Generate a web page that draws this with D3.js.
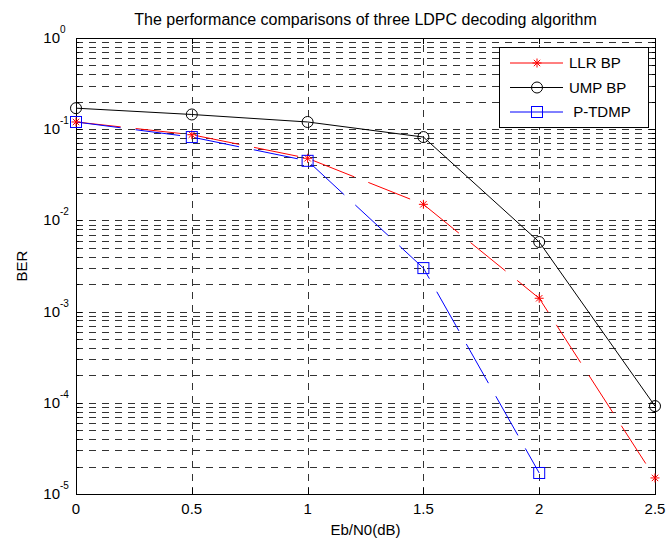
<!DOCTYPE html>
<html><head><meta charset="utf-8">
<script src="https://cdn.jsdelivr.net/npm/d3@7"></script>
<style>
html,body{margin:0;padding:0;background:#fff;}
svg text{font-family:"Liberation Sans",Arial,sans-serif;}
</style></head>
<body><svg id="c" width="667" height="542"></svg>
<script>
const xValues = [0, 0.5, 1, 1.5, 2, 2.5];
const llrBP = [0.12, 0.087, 0.048, 0.015, 1.4e-3, 1.5e-5];
const umpBP = [0.17, 0.145, 0.12, 0.082, 5.8e-3, 9.2e-5];
const pTDMP = [0.12, 0.082, 0.045, 3.0e-3, 1.7e-5];
const xTicks = [0, 0.5, 1, 1.5, 2, 2.5];
const xTickLabels = ["0", "0.5", "1", "1.5", "2", "2.5"];
const yExponents = [0, -1, -2, -3, -4, -5];
const seriesNames = ["LLR BP", "UMP BP", " P-TDMP"];
const seriesColors = ["#ff0000", "#000000", "#0000ff"];
const titleText = "The performance comparisons of three LDPC decoding algorithm";
const xLabel = "Eb/N0(dB)";
const yLabel = "BER";

const svg = d3.select("#c");
const L = 76, R = 655, T = 38, B = 494;
const x = d3.scaleLinear().domain([0, 2.5]).range([L, R]);
const y = d3.scaleLog().domain([1e-5, 1]).range([B, T]);

// grid
const g = svg.append("g");
const minor = [];
for (let e = -5; e < 0; e++) for (let m = 2; m <= 9; m++) minor.push(m * Math.pow(10, e));
const major = yExponents.map(e => Math.pow(10, e));
g.selectAll(".hg").data(minor.concat(major.slice(1, 5))).enter().append("line")
  .attr("x1", L).attr("x2", R).attr("y1", d => Math.round(y(d)) + 0.5).attr("y2", d => Math.round(y(d)) + 0.5)
  .attr("stroke", "#333").attr("stroke-width", 1).attr("stroke-dasharray", "7,6");
g.selectAll(".vg").data(xTicks.slice(1, 5)).enter().append("line")
  .attr("y1", B).attr("y2", T).attr("x1", d => Math.round(x(d)) + 0.5).attr("x2", d => Math.round(x(d)) + 0.5)
  .attr("stroke", "#333").attr("stroke-width", 1).attr("stroke-dasharray", "7,6");

// ticks (inside, all four sides)
const tk = svg.append("g").attr("stroke", "#000").attr("stroke-width", 1);
xTicks.forEach(t => {
  const xx = Math.round(x(t)) + 0.5;
  tk.append("line").attr("x1", xx).attr("x2", xx).attr("y1", B).attr("y2", B - 6);
  tk.append("line").attr("x1", xx).attr("x2", xx).attr("y1", T).attr("y2", T + 6);
});
minor.concat(major).forEach(v => {
  const yy = Math.round(y(v)) + 0.5;
  const len = major.includes(v) ? 6 : 3;
  tk.append("line").attr("x1", L).attr("x2", L + len).attr("y1", yy).attr("y2", yy);
  tk.append("line").attr("x1", R).attr("x2", R - len).attr("y1", yy).attr("y2", yy);
});
svg.append("rect").attr("x", L + 0.5).attr("y", T + 0.5).attr("width", R - L).attr("height", B - T)
  .attr("fill", "none").attr("stroke", "#000").attr("stroke-width", 1);

// tick labels
svg.selectAll(".xl").data(xTicks).enter().append("text")
  .attr("x", d => x(d)).attr("y", B + 20).attr("text-anchor", "middle")
  .attr("font-size", 15).text((d, i) => xTickLabels[i]);
yExponents.forEach(e => {
  svg.append("text").attr("x", 60).attr("y", y(Math.pow(10, e)) + 5)
    .attr("text-anchor", "end").attr("font-size", 15).text("10");
  svg.append("text").attr("x", 60).attr("y", y(Math.pow(10, e)) - 5)
    .attr("font-size", 10).text(String(e));
});

svg.append("text").attr("x", (L + R) / 2).attr("y", 25).attr("text-anchor", "middle")
  .attr("font-size", 16).text(titleText);
svg.append("text").attr("x", (L + R) / 2).attr("y", 535).attr("text-anchor", "middle")
  .attr("font-size", 15).text(xLabel);
svg.append("text").attr("transform", `translate(27,${(T + B) / 2}) rotate(-90)`)
  .attr("text-anchor", "middle").attr("font-size", 15).text(yLabel);

// series
const line = d3.line().x(d => x(d[0])).y(d => y(d[1]));
const series = [llrBP, umpBP, pTDMP];
const dashes = ["45,15", null, "45,15"];
function marker(sel, k, cx, cy) {
  const c = seriesColors[k];
  if (k === 0) {
    const s = 4.5;
    sel.append("path").attr("d", `M${cx - s},${cy}L${cx + s},${cy}M${cx},${cy - s}L${cx},${cy + s}M${cx - 3.2},${cy - 3.2}L${cx + 3.2},${cy + 3.2}M${cx - 3.2},${cy + 3.2}L${cx + 3.2},${cy - 3.2}`)
      .attr("stroke", c).attr("stroke-width", 1).attr("fill", "none");
  } else if (k === 1) {
    sel.append("circle").attr("cx", cx).attr("cy", cy).attr("r", 5.5).attr("fill", "none").attr("stroke", c);
  } else {
    sel.append("rect").attr("x", cx - 5.5).attr("y", cy - 5.5).attr("width", 11).attr("height", 11)
      .attr("fill", "none").attr("stroke", c);
  }
}
const drawOrder = [1, 0, 2];
drawOrder.forEach(k => {
  const pts = series[k].map((v, i) => [xValues[i], v]);
  const p = svg.append("path").attr("d", line(pts)).attr("fill", "none")
    .attr("stroke", seriesColors[k]).attr("stroke-width", 1);
  if (dashes[k]) p.attr("stroke-dasharray", dashes[k]);
});
drawOrder.forEach(k => {
  series[k].forEach((v, i) => marker(svg, k, x(xValues[i]), y(v)));
});

// legend
const lg = svg.append("g");
lg.append("rect").attr("x", 499.5).attr("y", 47.5).attr("width", 149).attr("height", 80)
  .attr("fill", "#fff").attr("stroke", "#000");
seriesNames.forEach((n, k) => {
  const yy = 63 + k * 24.5;
  lg.append("line").attr("x1", 510).attr("x2", 563).attr("y1", yy).attr("y2", yy)
    .attr("stroke", seriesColors[k]);
  marker(lg, k, 537, yy);
  lg.append("text").attr("x", 569).attr("y", yy + 5).attr("font-size", 15).attr("xml:space", "preserve")
    .style("white-space", "pre").text(n);
});
</script></body></html>
